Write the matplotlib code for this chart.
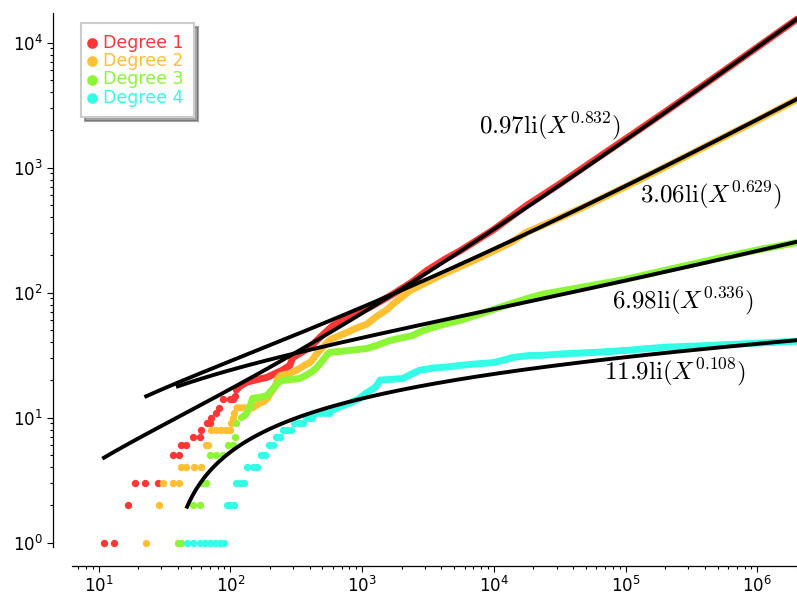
import math
import numpy as np
import matplotlib
matplotlib.use("Agg")
import matplotlib.pyplot as plt
from matplotlib.ticker import LogLocator, NullFormatter

labels = ["Degree 1", "Degree 2", "Degree 3", "Degree 4"]
colors = ["#ff3636", "#ffbf33", "#8cf536", "#33ffe6"]

# isolated points at small X
deg1_dots_x = [11, 13, 16.7, 18.8, 22.7, 28.2, 36.7, 40.5, 42.4, 46.4, 52, 58.5, 60, 66, 70, 72, 77.4, 82, 88, 99, 105, 108]
deg1_dots_y = [1, 1, 2, 3, 3, 3, 5, 5, 6, 6, 7, 7, 8, 9, 9, 10, 11, 12, 14, 14, 14, 15]
deg2_dots_x = [23, 28.6, 30.8, 36.7, 40.5, 42.4, 46.4, 52.6, 59.5, 65, 68, 72, 78, 85, 93, 100, 102, 104, 107]
deg2_dots_y = [1, 2, 3, 3, 3, 4, 4, 4, 4, 6, 6, 8, 8, 8, 8, 8, 9, 10, 11]
deg3_dots_x = [40, 42, 52, 58.5, 61, 65.5, 70.4, 78, 88, 95.6, 104.6, 108, 110]
deg3_dots_y = [1, 1, 2, 2, 3, 3, 5, 5, 5, 6, 6, 7, 9]
deg4_dots_x = [47, 52, 58.5, 63.8, 69.8, 76.2, 83, 89, 94, 100, 106, 110, 118, 128, 135, 148, 160,
               172, 185, 197, 212, 222, 240, 250, 268, 288, 305, 330, 355, 375, 400, 420, 440, 480, 520, 560]
deg4_dots_y = [1, 1, 1, 1, 1, 1, 1, 1, 2, 2, 2, 3, 3, 3, 4, 4, 4,
               5, 5, 6, 6, 7, 7, 8, 8, 8, 9, 9, 9, 10, 10, 10, 11, 11, 11, 11]

# dense part of each series (the points overlap into a band)
deg1_track_x = [111, 118, 133, 160, 189, 246, 283, 298, 337, 401, 478, 600, 766, 961, 1208, 1722, 2400, 3090,
                4200, 5530, 9900, 17780, 31850, 50000, 1e5, 2e5, 5e5, 1e6, 2e6]
deg1_track_y = [16.6, 17.8, 19.2, 20.2, 21.0, 23.9, 26.2, 30.3, 32.7, 36.5, 43.8, 54.6, 62.1, 69.7, 78.8, 97.6, 122, 150,
                184, 216, 318, 500, 745, 1035, 1700, 2800, 5500, 9200, 15450]
deg2_track_x = [112, 125, 148, 165, 180, 192, 200, 210, 220, 229, 240, 280, 320, 360, 401, 430, 452, 478, 570, 660,
                766, 900, 1087, 1300, 1540, 1720, 2307, 4130, 7410, 13270, 17780, 31850, 50000, 1e5, 2e5, 5e5, 1e6, 2e6]
deg2_track_y = [12, 12, 12, 13, 13.5, 14.3, 15.5, 16.6, 18, 20.6, 21.8, 22.5, 24, 26, 27.6, 30, 32.5, 34.5, 42, 45,
                48, 52, 56, 65, 73, 81.3, 103.7, 141, 185.6, 250, 305, 398, 495, 705, 1015, 1660, 2400, 3520]
deg3_track_x = [121, 130, 140, 148, 170, 189, 206, 215, 230, 250, 300, 337, 380, 420, 450, 500, 550, 570, 800, 1087,
                1300, 1630, 2000, 2420, 2800, 3300, 4200, 5530, 6590, 9000, 13270, 18840, 23770, 45190, 1e5, 1.93e5,
                5e5, 1e6, 2e6]
deg3_track_y = [10, 10.5, 12, 14.3, 14.6, 15, 16.6, 17.5, 19, 19.9, 20.3, 20.6, 22, 23.5, 25, 28.5, 32.5, 33.3, 34.5,
                35.8, 38, 41.5, 43.5, 45.4, 49, 52, 56, 60, 63.6, 71, 81.3, 91.3, 97.6, 110, 128, 150, 188, 220, 252]
deg4_track_x = [600, 677, 800, 960, 1060, 1208, 1290, 1370, 1700, 2040, 2400, 2750, 3500, 4500, 5530, 7500, 9900,
                12000, 14100, 18840, 22500, 35000, 60800, 1e5, 1.932e5, 3.5e5, 6.237e5, 1e6, 2e6]
deg4_track_y = [11.5, 12.2, 13, 14.3, 15.6, 17, 18, 20, 20.3, 20.6, 22.5, 24, 25, 25.5, 26.2, 27, 27.6,
                29, 30.4, 31.5, 31.5, 32.5, 33.4, 34.5, 36.6, 37.5, 38.5, 39.5, 40.9]

# fitted curves c * li(X^a)
fit_coef = [0.97, 3.06, 6.98, 11.9]
fit_exp = [0.832, 0.629, 0.336, 0.108]
fit_start = [11, 23, 40, 47]
fit_end = 2.0e6
fit_label_x = [26700, 446700, 274200, 238300]
fit_label_y = [2140, 604, 86.3, 23.0]


def li(x):
    # logarithmic integral via Ei(ln x) power series
    t = np.log(np.asarray(x, dtype=float))
    k = np.arange(1, 121)
    lg = np.array([math.lgamma(i + 1) for i in k])
    terms = np.exp(np.outer(np.log(t), k) - np.log(k) - lg)
    return 0.5772156649015329 + np.log(t) + terms.sum(axis=1)


dots = [(deg1_dots_x, deg1_dots_y), (deg2_dots_x, deg2_dots_y),
        (deg3_dots_x, deg3_dots_y), (deg4_dots_x, deg4_dots_y)]
tracks = [(deg1_track_x, deg1_track_y), (deg2_track_x, deg2_track_y),
          (deg3_track_x, deg3_track_y), (deg4_track_x, deg4_track_y)]

fig = plt.figure(figsize=(7.97, 5.95), dpi=100)
ax = fig.add_axes([72 / 797, 48 / 595, 725 / 797, 534 / 595])
ax.set_xscale("log")
ax.set_yscale("log")

for i in range(4):
    dx, dy = dots[i]
    tx, ty = tracks[i]
    ax.plot(tx, ty, color=colors[i], lw=5.0, solid_capstyle="round",
            solid_joinstyle="round", zorder=2 + i)
    ax.scatter(dx, dy, s=28, color=colors[i], linewidths=0, zorder=2 + i, label=labels[i])

for c, a, x0, lx, ly in zip(fit_coef, fit_exp, fit_start, fit_label_x, fit_label_y):
    xs = np.logspace(np.log10(x0), np.log10(fit_end), 500)
    ax.plot(xs, c * li(xs ** a), color="black", lw=2.8, zorder=10)
    ax.text(lx, ly, r"$%s\mathrm{li}(X^{%s})$" % (c, a), fontsize=18, ha="center",
            va="center", math_fontfamily="cm", zorder=11)

ax.set_xlim(6.29, 2.0e6)
ax.set_ylim(0.924, 17290)

for side in ["top", "right"]:
    ax.spines[side].set_visible(False)
for side in ["left", "bottom"]:
    ax.spines[side].set_position(("outward", 13.5))
    ax.spines[side].set_linewidth(0.9)

for axis in [ax.xaxis, ax.yaxis]:
    axis.set_major_locator(LogLocator(base=10, numticks=20))
    axis.set_minor_locator(LogLocator(base=10, subs=np.arange(2, 10), numticks=20))
    axis.set_minor_formatter(NullFormatter())
ax.tick_params(which="major", length=4, width=0.8, labelsize=12)
ax.tick_params(which="minor", length=2.3, width=0.8)

leg = ax.legend(loc="upper left", bbox_to_anchor=(0.0124, 0.981), borderaxespad=0,
                fontsize=12.5, markerscale=1.45, scatterpoints=1, handlelength=0.05,
                handletextpad=0.6, labelspacing=0.02, borderpad=0.6, fancybox=False,
                framealpha=1, shadow={"ox": 3, "oy": -3})
leg.get_frame().set_edgecolor("#cccccc")
leg.get_frame().set_linewidth(1.5)
for txt, c in zip(leg.get_texts(), colors):
    txt.set_color(c)

fig.savefig("out.png", dpi=100)
